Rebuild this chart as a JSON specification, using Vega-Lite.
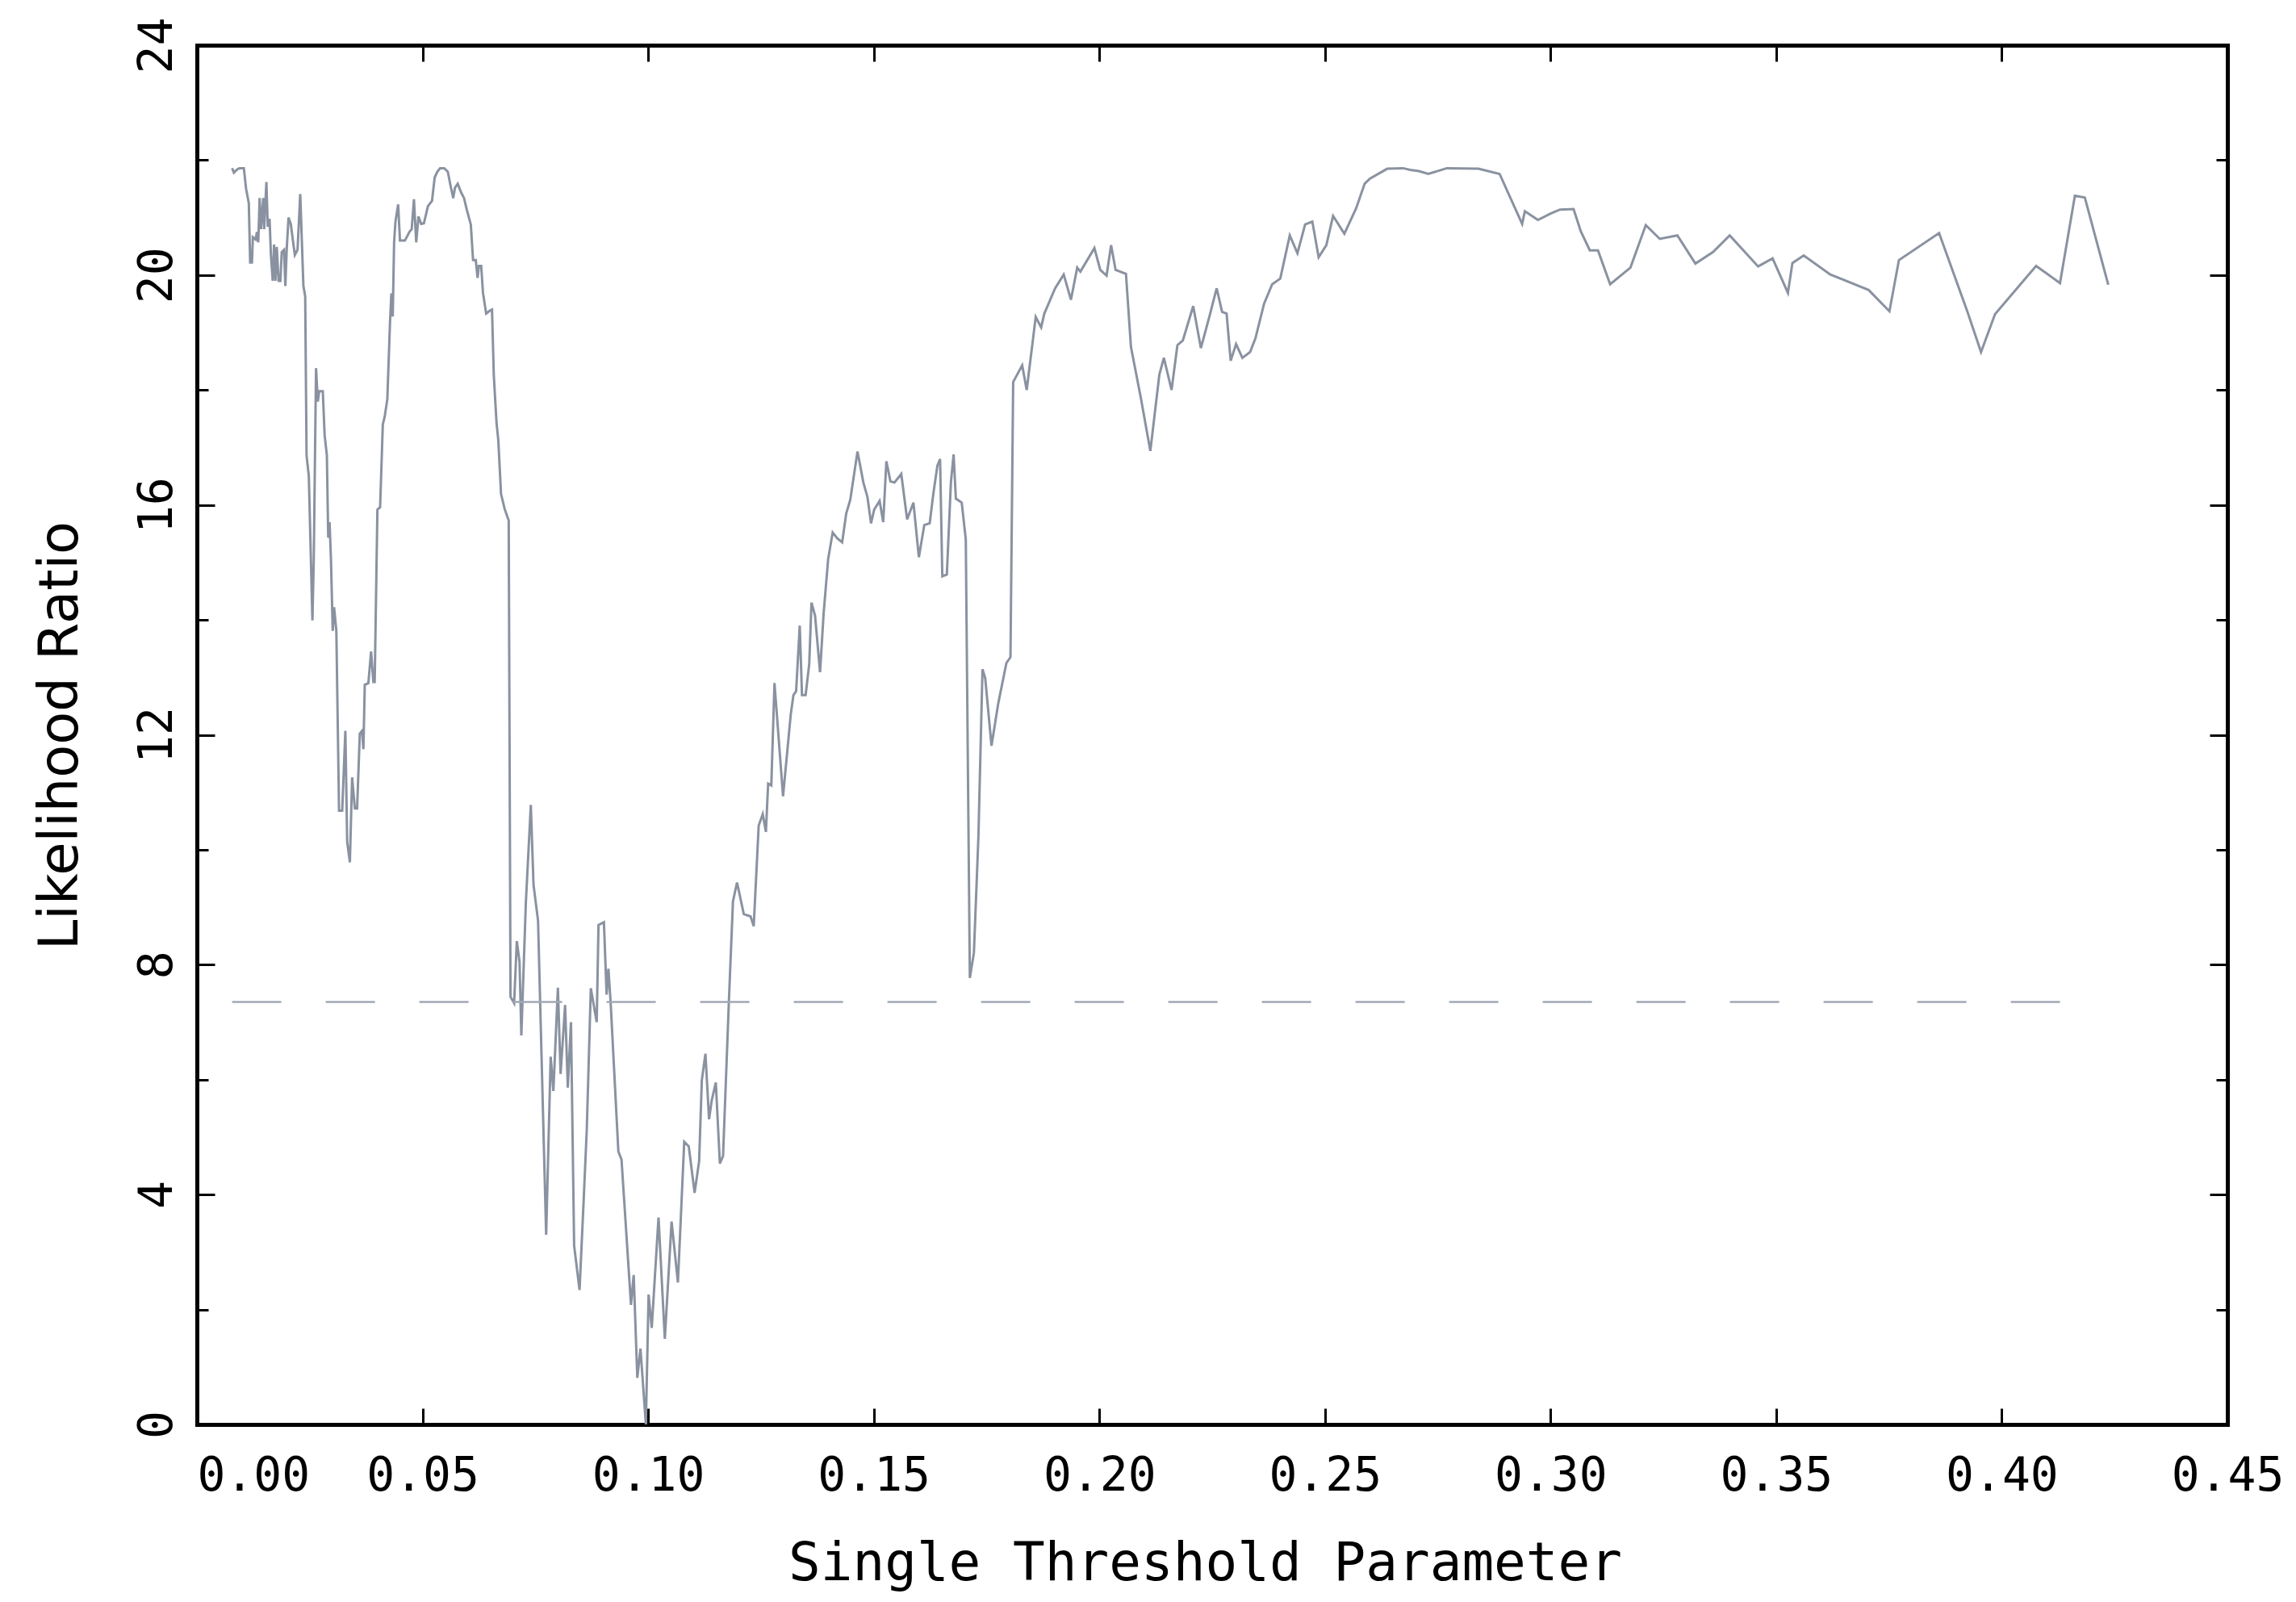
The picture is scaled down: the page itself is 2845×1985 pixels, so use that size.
{
  "$schema": "https://vega.github.io/schema/vega-lite/v6.json",
  "width": 2516,
  "height": 1709,
  "autosize": {"type": "none"},
  "padding": {"left": 244, "top": 56, "right": 85, "bottom": 220},
  "background": "white",
  "config": {"view": {"stroke": null}, "axis": {"grid": false}},
  "datasets": {
    "curve": [
      {"t":0.0078,"lr":21.86},{"t":0.0082,"lr":21.78},{"t":0.0088,"lr":21.83},{"t":0.0094,"lr":21.86},{"t":0.0104,"lr":21.86},{"t":0.0109,"lr":21.5},{"t":0.0115,"lr":21.25},{"t":0.0118,"lr":20.22},{"t":0.0122,"lr":20.22},{"t":0.0124,"lr":20.66},{"t":0.0130,"lr":20.62},{"t":0.0133,"lr":20.75},{"t":0.0136,"lr":20.57},{"t":0.0139,"lr":21.34},{"t":0.0142,"lr":20.8},{"t":0.0147,"lr":21.34},{"t":0.0149,"lr":20.8},{"t":0.0154,"lr":21.62},{"t":0.0157,"lr":20.84},{"t":0.0161,"lr":20.98},{"t":0.0164,"lr":20.35},{"t":0.0168,"lr":19.9},{"t":0.0171,"lr":20.53},{"t":0.0174,"lr":19.9},{"t":0.0177,"lr":20.49},{"t":0.0181,"lr":19.9},{"t":0.0185,"lr":19.9},{"t":0.0188,"lr":20.4},{"t":0.0193,"lr":20.44},{"t":0.0196,"lr":19.81},{"t":0.0199,"lr":20.44},{"t":0.0203,"lr":21.0},{"t":0.0208,"lr":20.89},{"t":0.0217,"lr":20.35},{"t":0.0223,"lr":20.44},{"t":0.0229,"lr":21.41},{"t":0.0236,"lr":19.81},{"t":0.0240,"lr":19.63},{"t":0.0243,"lr":16.86},{"t":0.0248,"lr":16.5},{"t":0.0256,"lr":13.99},{"t":0.0259,"lr":15.07},{"t":0.0264,"lr":18.38},{"t":0.0268,"lr":17.8},{"t":0.0271,"lr":17.98},{"t":0.0279,"lr":17.98},{"t":0.0283,"lr":17.22},{"t":0.0288,"lr":16.86},{"t":0.0291,"lr":15.43},{"t":0.0294,"lr":15.7},{"t":0.0297,"lr":15.07},{"t":0.0301,"lr":13.81},{"t":0.0304,"lr":14.22},{"t":0.0309,"lr":13.81},{"t":0.0315,"lr":10.68},{"t":0.0322,"lr":10.68},{"t":0.0329,"lr":12.07},{"t":0.0333,"lr":10.14},{"t":0.0339,"lr":9.78},{"t":0.0344,"lr":11.26},{"t":0.0350,"lr":10.72},{"t":0.0355,"lr":10.72},{"t":0.0361,"lr":12.02},{"t":0.0366,"lr":12.07},{"t":0.0369,"lr":11.75},{"t":0.0372,"lr":12.87},{"t":0.0380,"lr":12.9},{"t":0.0386,"lr":13.45},{"t":0.0391,"lr":12.92},{"t":0.0394,"lr":12.92},{"t":0.0400,"lr":15.92},{"t":0.0406,"lr":15.96},{"t":0.0412,"lr":17.4},{"t":0.0416,"lr":17.53},{"t":0.0422,"lr":17.84},{"t":0.0428,"lr":19.19},{"t":0.0431,"lr":19.68},{"t":0.0434,"lr":19.28},{"t":0.0437,"lr":20.57},{"t":0.0440,"lr":20.93},{"t":0.0446,"lr":21.23},{"t":0.0450,"lr":20.6},{"t":0.0461,"lr":20.6},{"t":0.0471,"lr":20.75},{"t":0.0476,"lr":20.8},{"t":0.0481,"lr":21.32},{"t":0.0486,"lr":20.57},{"t":0.0491,"lr":21.02},{"t":0.0497,"lr":20.89},{"t":0.0503,"lr":20.9},{"t":0.0512,"lr":21.2},{"t":0.0521,"lr":21.29},{"t":0.0527,"lr":21.7},{"t":0.0533,"lr":21.8},{"t":0.0539,"lr":21.86},{"t":0.0548,"lr":21.86},{"t":0.0556,"lr":21.8},{"t":0.0562,"lr":21.56},{"t":0.0568,"lr":21.34},{"t":0.0572,"lr":21.52},{"t":0.0578,"lr":21.59},{"t":0.0586,"lr":21.43},
      {"t":0.0592,"lr":21.34},{"t":0.0598,"lr":21.14},{"t":0.0607,"lr":20.88},{"t":0.0612,"lr":20.26},{"t":0.0618,"lr":20.26},{"t":0.0622,"lr":19.95},{"t":0.0625,"lr":20.16},{"t":0.0630,"lr":20.16},{"t":0.0634,"lr":19.69},{"t":0.0641,"lr":19.33},{"t":0.0649,"lr":19.38},{"t":0.0654,"lr":19.4},{"t":0.0658,"lr":18.25},{"t":0.0664,"lr":17.43},{"t":0.0668,"lr":17.12},{"t":0.0674,"lr":16.19},{"t":0.0682,"lr":15.93},{"t":0.0691,"lr":15.73},{"t":0.0695,"lr":7.44},{"t":0.0703,"lr":7.33},{"t":0.0709,"lr":8.41},{"t":0.0715,"lr":8.05},{"t":0.0719,"lr":6.77},{"t":0.0729,"lr":9.08},{"t":0.0740,"lr":10.78},{"t":0.0746,"lr":9.39},{"t":0.0756,"lr":8.77},{"t":0.0774,"lr":3.3},{"t":0.0784,"lr":6.4},{"t":0.0790,"lr":5.8},{"t":0.0800,"lr":7.6},{"t":0.0806,"lr":6.1},{"t":0.0816,"lr":7.3},{"t":0.0822,"lr":5.86},{"t":0.0829,"lr":7.0},{"t":0.0836,"lr":3.11},{"t":0.0848,"lr":2.34},{"t":0.0857,"lr":3.88},{"t":0.0864,"lr":5.13},{"t":0.0873,"lr":7.59},{"t":0.0886,"lr":7.0},{"t":0.0890,"lr":8.69},{"t":0.0902,"lr":8.74},{"t":0.0908,"lr":7.48},{"t":0.0912,"lr":7.93},{"t":0.0917,"lr":7.33},{"t":0.0934,"lr":4.75},{"t":0.0941,"lr":4.61},{"t":0.0962,"lr":2.08},{"t":0.0968,"lr":2.6},{"t":0.0976,"lr":0.81},{"t":0.0983,"lr":1.32},{"t":0.0995,"lr":0.0},{"t":0.1001,"lr":2.26},{"t":0.1008,"lr":1.68},{"t":0.1023,"lr":3.6},{"t":0.1037,"lr":1.49},{"t":0.1052,"lr":3.53},{"t":0.1066,"lr":2.47},{"t":0.1080,"lr":4.92},{"t":0.1090,"lr":4.84},{"t":0.1103,"lr":4.03},{"t":0.1113,"lr":4.58},{"t":0.1119,"lr":5.99},{"t":0.1127,"lr":6.45},{"t":0.1135,"lr":5.31},{"t":0.1141,"lr":5.64},{"t":0.1150,"lr":5.95},{"t":0.1159,"lr":4.54},{"t":0.1166,"lr":4.67},{"t":0.1179,"lr":7.37},{"t":0.1188,"lr":9.1},{"t":0.1197,"lr":9.43},{"t":0.1212,"lr":8.88},{"t":0.1227,"lr":8.84},{"t":0.1234,"lr":8.67},{"t":0.1245,"lr":10.42},{"t":0.1254,"lr":10.62},{"t":0.1261,"lr":10.31},{"t":0.1266,"lr":11.15},{"t":0.1273,"lr":11.12},{"t":0.1280,"lr":12.9},{"t":0.1299,"lr":10.93},
      {"t":0.1316,"lr":12.35},{"t":0.1322,"lr":12.69},{"t":0.1328,"lr":12.76},{"t":0.1336,"lr":13.9},{"t":0.1341,"lr":12.69},{"t":0.1349,"lr":12.69},{"t":0.1357,"lr":13.23},{"t":0.1362,"lr":14.3},{"t":0.1370,"lr":14.07},{"t":0.1381,"lr":13.09},{"t":0.1389,"lr":14.12},{"t":0.1399,"lr":15.06},{"t":0.1409,"lr":15.52},{"t":0.1419,"lr":15.42},{"t":0.1430,"lr":15.35},{"t":0.1439,"lr":15.85},{"t":0.1448,"lr":16.09},{"t":0.1464,"lr":16.93},{"t":0.1477,"lr":16.39},{"t":0.1486,"lr":16.14},{"t":0.1494,"lr":15.68},{"t":0.1501,"lr":15.92},{"t":0.1513,"lr":16.07},{"t":0.1521,"lr":15.7},{"t":0.1528,"lr":16.76},{"t":0.1537,"lr":16.41},{"t":0.1546,"lr":16.39},{"t":0.1561,"lr":16.54},{"t":0.1574,"lr":15.75},{"t":0.1588,"lr":16.04},{"t":0.1600,"lr":15.09},{"t":0.1612,"lr":15.65},{"t":0.1624,"lr":15.68},{"t":0.1632,"lr":16.19},{"t":0.1641,"lr":16.68},{"t":0.1647,"lr":16.8},{"t":0.1652,"lr":14.76},{"t":0.1662,"lr":14.79},{"t":0.1671,"lr":16.39},{"t":0.1677,"lr":16.88},{"t":0.1682,"lr":16.11},{"t":0.1695,"lr":16.04},{"t":0.1704,"lr":15.4},{"t":0.1713,"lr":7.77},{"t":0.1722,"lr":8.21},{"t":0.1732,"lr":10.23},{"t":0.1741,"lr":13.14},{"t":0.1747,"lr":12.99},{"t":0.1761,"lr":11.81},{"t":0.1776,"lr":12.55},{"t":0.1794,"lr":13.25},{"t":0.1803,"lr":13.35},
      {"t":0.1809,"lr":18.14},{"t":0.1829,"lr":18.43},{"t":0.1839,"lr":18.0},{"t":0.1859,"lr":19.27},{"t":0.1871,"lr":19.09},{"t":0.1878,"lr":19.33},{"t":0.1902,"lr":19.77},{"t":0.1921,"lr":20.01},{"t":0.1937,"lr":19.57},{"t":0.1951,"lr":20.13},{"t":0.1958,"lr":20.06},{"t":0.1989,"lr":20.47},{"t":0.2002,"lr":20.09},{"t":0.2016,"lr":19.99},{"t":0.2026,"lr":20.52},{"t":0.2036,"lr":20.09},{"t":0.2059,"lr":20.02},{"t":0.2070,"lr":18.75},{"t":0.2092,"lr":17.86},{"t":0.2113,"lr":16.94},{"t":0.2133,"lr":18.27},{"t":0.2143,"lr":18.56},{"t":0.2160,"lr":18.0},{"t":0.2173,"lr":18.78},{"t":0.2185,"lr":18.86},{"t":0.2208,"lr":19.46},{"t":0.2225,"lr":18.73},{"t":0.2245,"lr":19.31},{"t":0.2260,"lr":19.77},{"t":0.2272,"lr":19.36},{"t":0.2282,"lr":19.33},{"t":0.2291,"lr":18.51},{"t":0.2303,"lr":18.8},{"t":0.2317,"lr":18.56},{"t":0.2334,"lr":18.66},{"t":0.2346,"lr":18.9},{"t":0.2365,"lr":19.5},{"t":0.2383,"lr":19.84},{"t":0.2401,"lr":19.94},{"t":0.2422,"lr":20.69},{"t":0.2439,"lr":20.38},{"t":0.2456,"lr":20.88},{"t":0.2472,"lr":20.93},{"t":0.2486,"lr":20.31},{"t":0.2503,"lr":20.52},{"t":0.2518,"lr":21.03},{"t":0.2543,"lr":20.72},{"t":0.2569,"lr":21.16},{"t":0.2588,"lr":21.59},{"t":0.2600,"lr":21.68},{"t":0.2638,"lr":21.85},{"t":0.2673,"lr":21.86},{"t":0.2689,"lr":21.83},{"t":0.2708,"lr":21.81},{"t":0.2729,"lr":21.76},{"t":0.2770,"lr":21.86},{"t":0.2840,"lr":21.85},{"t":0.2887,"lr":21.76},{"t":0.2937,"lr":20.89},{"t":0.2943,"lr":21.11},{"t":0.2972,"lr":20.96},{"t":0.3000,"lr":21.07},{"t":0.3021,"lr":21.14},{"t":0.3051,"lr":21.15},{"t":0.3067,"lr":20.76},{"t":0.3087,"lr":20.43},{"t":0.3105,"lr":20.43},{"t":0.3132,"lr":19.84},{"t":0.3177,"lr":20.13},{"t":0.3211,"lr":20.87},{"t":0.3242,"lr":20.63},{"t":0.3281,"lr":20.69},{"t":0.3321,"lr":20.2},{"t":0.3360,"lr":20.4},{"t":0.3397,"lr":20.69},{"t":0.3460,"lr":20.15},{"t":0.3492,"lr":20.29},{"t":0.3526,"lr":19.69},{"t":0.3536,"lr":20.21},{"t":0.3561,"lr":20.34},{"t":0.3620,"lr":20.01},{"t":0.3705,"lr":19.74},{"t":0.3751,"lr":19.37},{"t":0.3772,"lr":20.26},{"t":0.3861,"lr":20.73},{"t":0.3924,"lr":19.36},{"t":0.3954,"lr":18.66},{"t":0.3985,"lr":19.32},{"t":0.4076,"lr":20.16},{"t":0.4129,"lr":19.86},{"t":0.4162,"lr":21.38},{"t":0.4184,"lr":21.35},{"t":0.4236,"lr":19.83}
    ],
    "critical": [
      {"start": 0.0078, "end": 0.4215, "value": 7.35}
    ]
  },
  "layer": [
    {
      "data": {"name": "curve"},
      "mark": {"type": "line", "color": "#8a92a1", "strokeWidth": 3},
      "encoding": {
        "x": {
          "field": "t", "type": "quantitative",
          "scale": {"domain": [0, 0.45], "nice": false, "zero": false},
          "axis": {
            "orient": "bottom",
            "values": [0, 0.05, 0.1, 0.15, 0.2, 0.25, 0.3, 0.35, 0.4, 0.45],
            "format": ".2f",
            "title": "Single Threshold Parameter",
            "titleFont": "DejaVu Sans Mono", "titleFontSize": 66, "titleFontWeight": "normal", "titleColor": "black",
            "titleX": 1249, "titleY": 192, "titleBaseline": "alphabetic", "titleAlign": "center",
            "labelFont": "DejaVu Sans Mono", "labelFontSize": 58, "labelColor": "black",
            "labelBaseline": "alphabetic", "labelPadding": 101,
            "labelAlign": {"condition": {"test": "datum.value === 0", "value": "left"}, "value": "center"},
            "labelFlush": false, "labelOverlap": false, "labelBound": false,
            "tickSize": -20, "tickWidth": 3, "tickColor": "black",
            "domainColor": "black", "domainWidth": 5, "domainCap": "square"
          }
        },
        "y": {
          "field": "lr", "type": "quantitative",
          "scale": {"domain": [0, 24], "nice": false, "zero": false},
          "axis": {
            "orient": "left",
            "values": [0, 2, 4, 6, 8, 10, 12, 14, 16, 18, 20, 22, 24],
            "labelExpr": "datum.value % 4 === 0 ? datum.label : ''",
            "title": "Likelihood Ratio",
            "titleFont": "DejaVu Sans", "titleFontSize": 67, "titleFontWeight": "normal", "titleColor": "black",
            "titleAngle": -90, "titleX": -149, "titleY": 855, "titleBaseline": "alphabetic", "titleAlign": "center",
            "labelFont": "DejaVu Sans Mono", "labelFontSize": 58, "labelColor": "black",
            "labelAngle": -90, "labelAlign": "center", "labelBaseline": "alphabetic", "labelPadding": 54,
            "labelOverlap": false, "labelBound": false, "labelFlush": false,
            "tickSize": {"condition": {"test": "datum.value % 4 === 0", "value": -22}, "value": -14},
            "tickWidth": 3, "tickColor": "black",
            "domainColor": "black", "domainWidth": 5, "domainCap": "square"
          }
        }
      }
    },
    {
      "data": {"name": "critical"},
      "mark": {"type": "rule", "color": "#a1a8b5", "strokeWidth": 2.5, "strokeDash": [61, 55]},
      "encoding": {
        "x": {
          "field": "start", "type": "quantitative",
          "scale": {"domain": [0, 0.45], "nice": false, "zero": false},
          "axis": {
            "orient": "top",
            "values": [0, 0.05, 0.1, 0.15, 0.2, 0.25, 0.3, 0.35, 0.4, 0.45],
            "labels": false, "title": null,
            "tickSize": -20, "tickWidth": 3, "tickColor": "black",
            "domainColor": "black", "domainWidth": 5, "domainCap": "square"
          }
        },
        "x2": {"field": "end"},
        "y": {
          "field": "value", "type": "quantitative",
          "scale": {"domain": [0, 24], "nice": false, "zero": false},
          "axis": {
            "orient": "right",
            "values": [0, 2, 4, 6, 8, 10, 12, 14, 16, 18, 20, 22, 24],
            "labels": false, "title": null,
            "tickSize": {"condition": {"test": "datum.value % 4 === 0", "value": -22}, "value": -14},
            "tickWidth": 3, "tickColor": "black",
            "domainColor": "black", "domainWidth": 5, "domainCap": "square"
          }
        }
      }
    }
  ],
  "resolve": {"axis": {"x": "independent", "y": "independent"}}
}
